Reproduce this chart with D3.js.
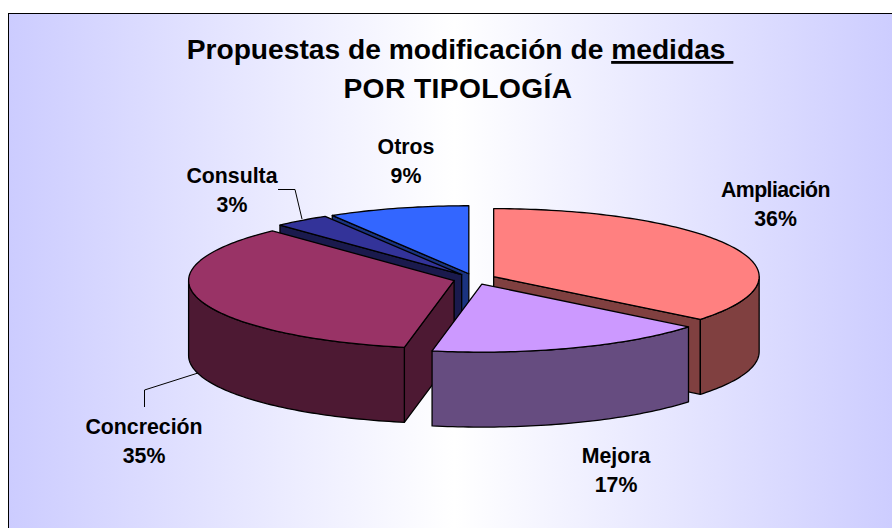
<!DOCTYPE html>
<html>
<head>
<meta charset="utf-8">
<script src="https://cdn.jsdelivr.net/npm/d3@7"></script>
<style>
  html, body { margin: 0; padding: 0; background: #fff; }
  svg { display: block; }
  text { font-family: "Liberation Sans", Arial, sans-serif; font-weight: bold; fill: #000; }
</style>
</head>
<body>
<div id="chart"></div>
<script>
const WIDTH = 892;
const HEIGHT = 528;

const CATEGORIES = ["Ampliación", "Mejora", "Concreción", "Consulta", "Otros"];
const VALUES = [35.8, 17.2, 35, 3.4, 8.6];
const TOP_COLORS = ["#ff8080", "#cc99ff", "#993366", "#333399", "#3366ff"];
const WALL_COLORS = ["#804040", "#664c80", "#4d1933", "#1a1a4d", "#1a3380"];

const CX = 474.5;
const CY = 279;
const RX = 265.5;
const RY = 68;
const DEPTH = 75;
const EXPLODE = 0.08;

// label centres, same order as CATEGORIES
const LABEL_X = [775.5, 616, 144, 232, 406];
const LABEL_Y = [197, 463, 434, 183, 154];
const LABEL_SPACING = [-0.6, 0, 0, 0, 0];

const svg = d3.select("#chart").append("svg").attr("width", WIDTH).attr("height", HEIGHT);

const defs = svg.append("defs");
const grad = defs.append("linearGradient").attr("id", "bg").attr("x1", "0").attr("x2", "1").attr("y1", "0").attr("y2", "0");
grad.append("stop").attr("offset", "0").attr("stop-color", "#ccccff");
grad.append("stop").attr("offset", "0.5").attr("stop-color", "#ffffff");
grad.append("stop").attr("offset", "1").attr("stop-color", "#ccccff");

svg.append("rect")
  .attr("x", 8.5).attr("y", 13.5).attr("width", WIDTH).attr("height", HEIGHT)
  .attr("fill", "url(#bg)").attr("stroke", "#000").attr("stroke-width", 1);

// unit circle -> screen
const sx = d3.scaleLinear().domain([-1, 1]).range([CX - RX, CX + RX]);
const sy = d3.scaleLinear().domain([-1, 1]).range([CY + RY, CY - RY]);

const pie = d3.pie().sort(null).value(d => d)(VALUES);
const line = d3.line();

// a point on the pie, angle clockwise from the top
const pt = (a, r, off, drop = 0) => [
  sx(r * Math.sin(a) + off[0]),
  sy(r * Math.cos(a) + off[1]) + drop,
];

const arcPts = (a0, a1, off, drop = 0) => {
  const n = Math.max(2, Math.ceil((a1 - a0) / 0.02));
  return d3.range(n + 1).map(i => pt(a0 + ((a1 - a0) * i) / n, 1, off, drop));
};

const slices = pie.map((p, i) => {
  const mid = (p.startAngle + p.endAngle) / 2;
  return {
    i,
    a0: p.startAngle,
    a1: p.endAngle,
    off: [EXPLODE * Math.sin(mid), EXPLODE * Math.cos(mid)],
  };
});

// back to front
const DRAW_ORDER = [4, 3, 0, 2, 1];
const g = svg.append("g").attr("stroke", "#000").attr("stroke-width", 1.3).attr("stroke-linejoin", "round");

DRAW_ORDER.forEach(idx => {
  const s = slices[idx];
  const wall = WALL_COLORS[s.i];
  const apex = pt(0, 0, s.off);

  // radial walls facing the viewer
  [[s.a0, Math.sin(s.a0) < -1e-6], [s.a1, Math.sin(s.a1) > 1e-6]].forEach(([a, visible]) => {
    if (!visible) return;
    const rim = pt(a, 1, s.off);
    g.append("path")
      .attr("fill", wall)
      .attr("d", line([apex, rim, [rim[0], rim[1] + DEPTH], [apex[0], apex[1] + DEPTH]]) + "Z");
  });

  // outer wall, front half only
  const w0 = Math.max(s.a0, Math.PI / 2);
  const w1 = Math.min(s.a1, (3 * Math.PI) / 2);
  if (w1 > w0) {
    g.append("path")
      .attr("fill", wall)
      .attr("d", line([...arcPts(w0, w1, s.off), ...arcPts(w0, w1, s.off, DEPTH).reverse()]) + "Z");
  }

  g.append("path")
    .attr("fill", TOP_COLORS[s.i])
    .attr("d", line([apex, ...arcPts(s.a0, s.a1, s.off)]) + "Z");
});

// leader lines
const leaders = svg.append("g").attr("fill", "none").attr("stroke", "#000").attr("stroke-width", 1);
leaders.append("path").attr("d", line([[278, 189.5], [295, 189.5], [302, 219]]));
leaders.append("path").attr("d", line([[198, 373], [144.5, 390], [144.5, 407]]));

// title
const title = svg.append("text").attr("text-anchor", "middle").style("font-size", "28.2px");
title.append("tspan").attr("x", 460).attr("y", 59).text("Propuestas de modificación de ");
title.append("tspan").attr("text-decoration", "underline").text("medidas\u00a0");
title.append("tspan").attr("x", 458).attr("y", 97.5).style("letter-spacing", "0.4px").text("POR TIPOLOGÍA");

// labels
const labels = svg.append("g").attr("text-anchor", "middle").style("font-size", "21.3px");
const pct = d3.format(".0%");
const total = d3.sum(VALUES);
CATEGORIES.forEach((c, i) => {
  labels.append("text").attr("x", LABEL_X[i]).attr("y", LABEL_Y[i]).style("letter-spacing", LABEL_SPACING[i] + "px").text(c);
  labels.append("text").attr("x", LABEL_X[i]).attr("y", LABEL_Y[i] + 29).text(pct(VALUES[i] / total));
});
</script>
</body>
</html>
